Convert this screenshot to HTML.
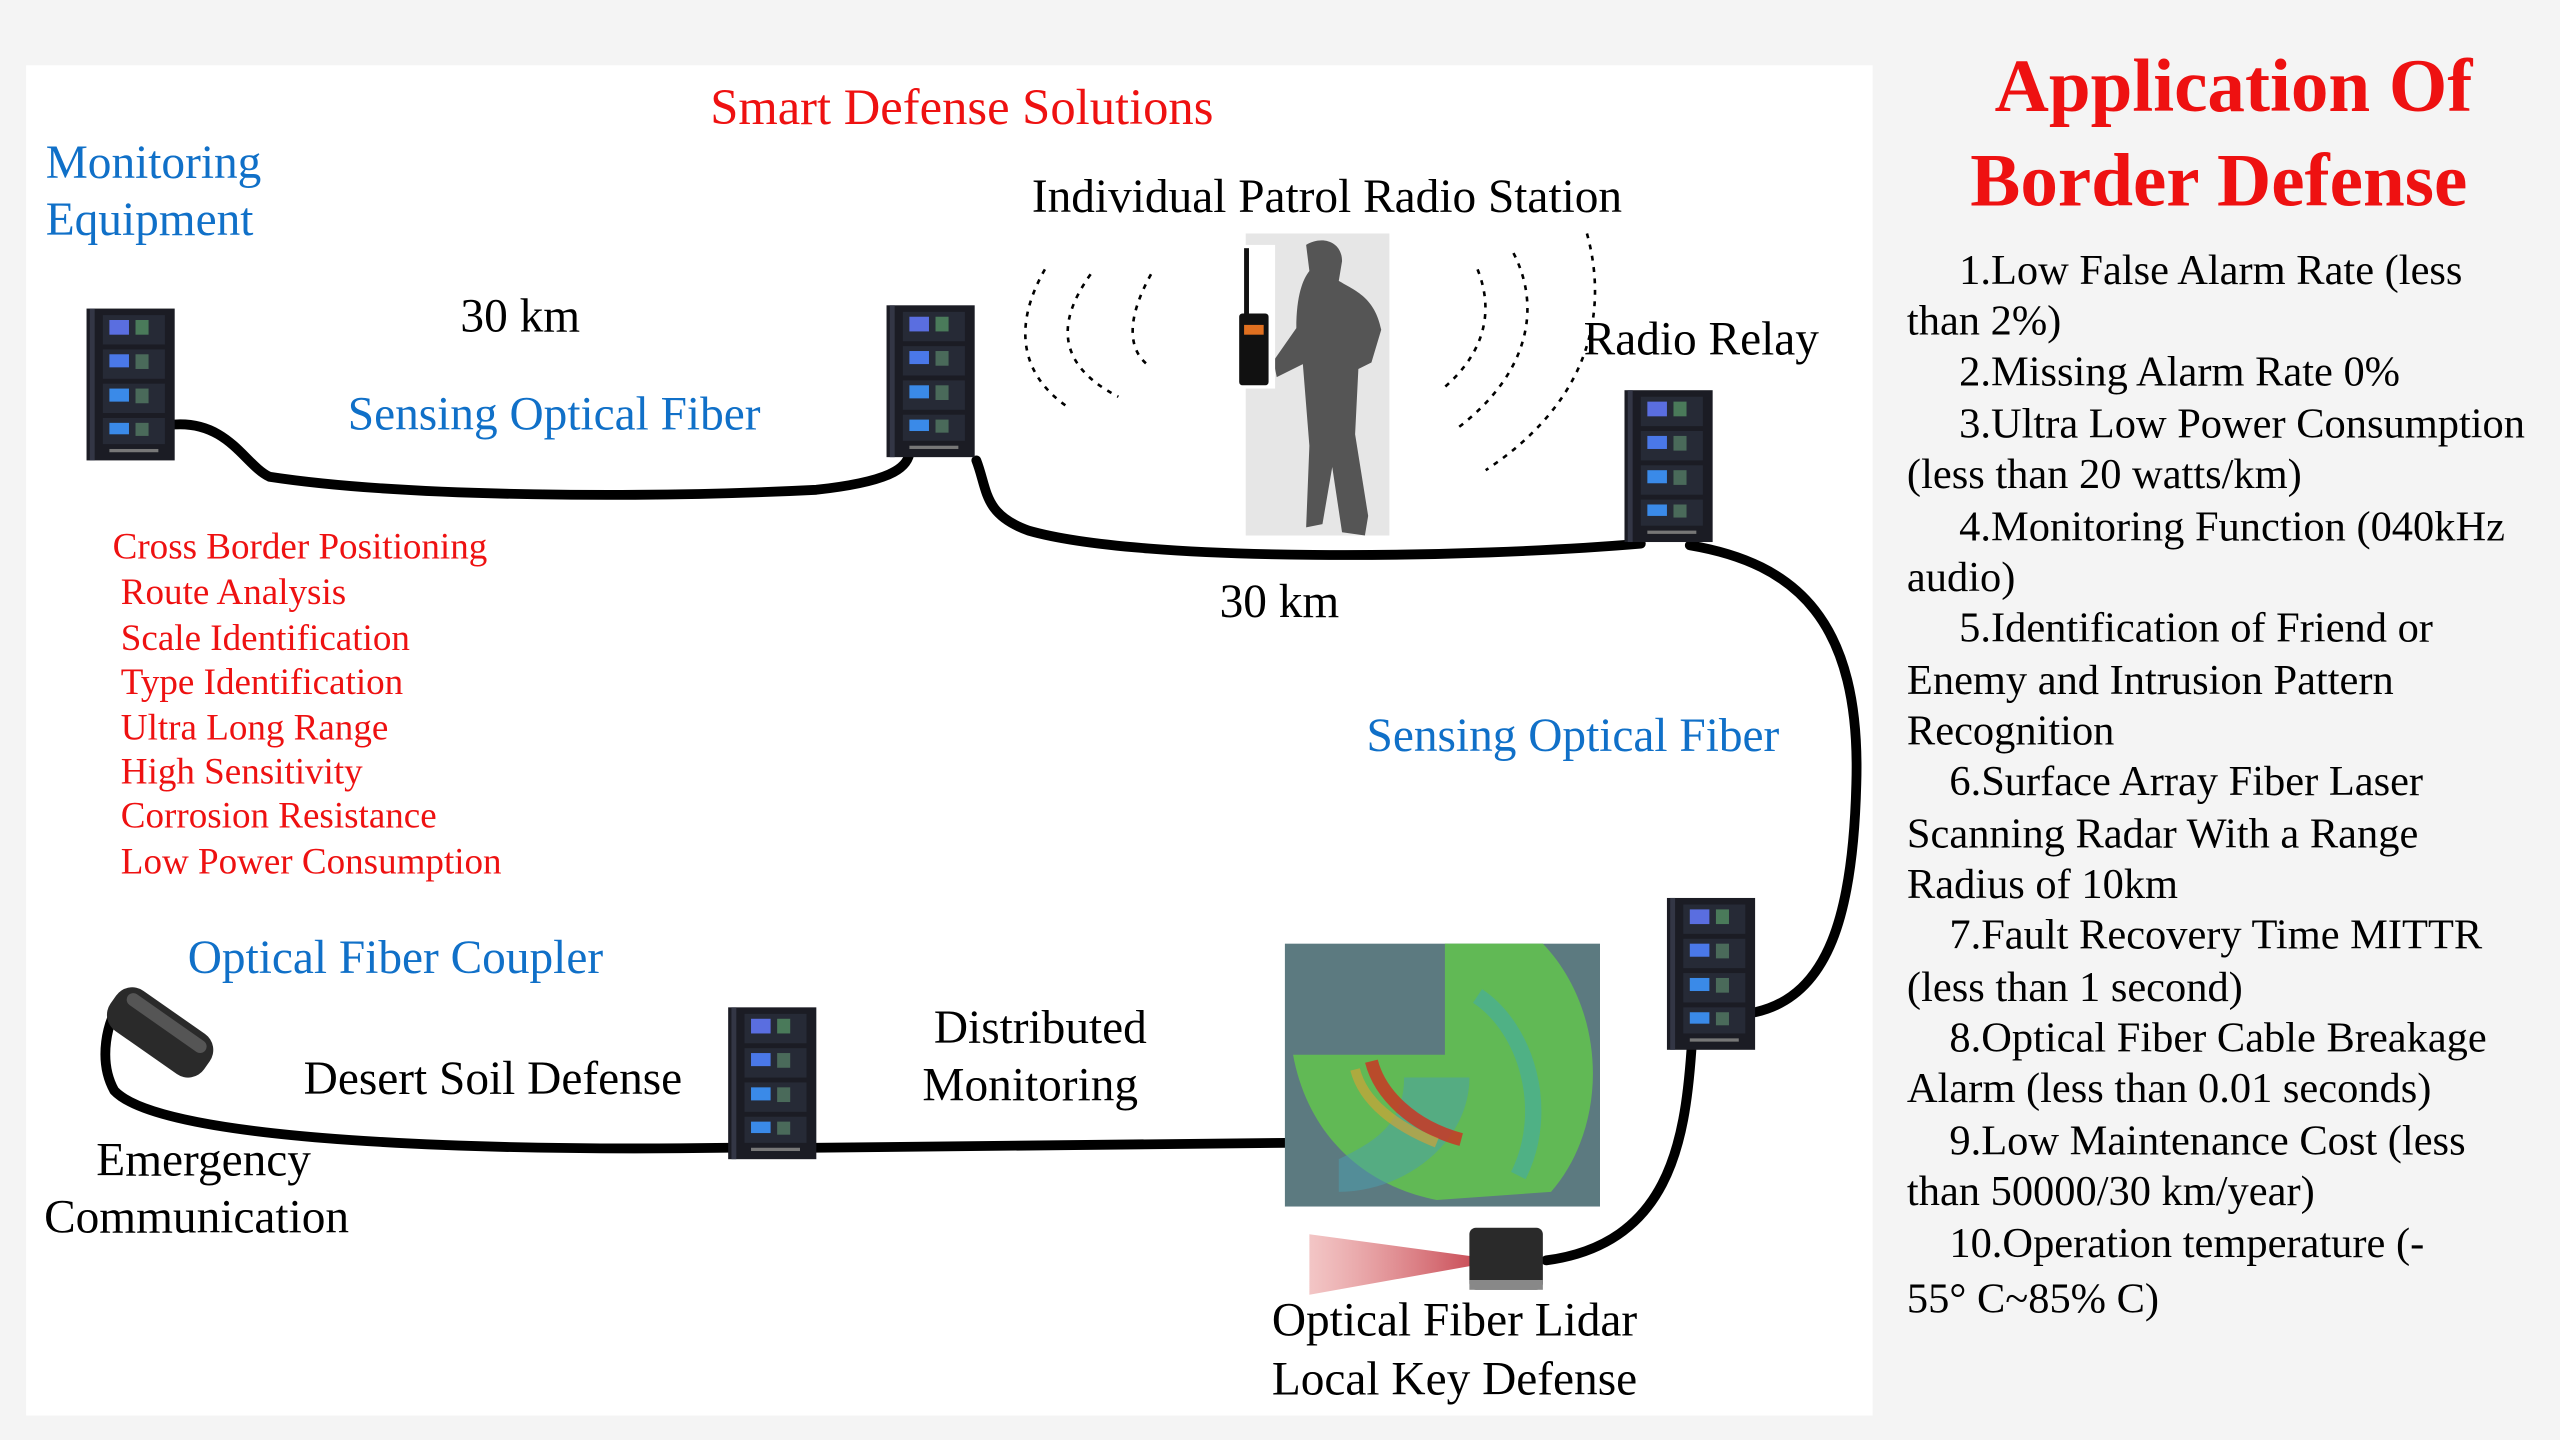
<!DOCTYPE html>
<html><head><meta charset="utf-8"><style>
html,body{margin:0;padding:0;background:#f4f4f4;}
svg{display:block;}
text{font-family:"Liberation Serif",serif;}
</style></head><body>
<svg width="2560" height="1440" viewBox="0 0 1568 882" xmlns="http://www.w3.org/2000/svg">
<defs>
<g id="rack">
<rect x="0" y="0" width="54" height="93" fill="#1b1c24"/>
<rect x="2" y="0" width="3" height="93" fill="#333645"/>
<g>
<rect x="10" y="4" width="38" height="18" fill="#262a36"/><rect x="14" y="7" width="12" height="9" fill="#5a6ee0"/><rect x="30" y="7" width="8" height="9" fill="#4a7a5a"/>
<rect x="10" y="25" width="38" height="18" fill="#262a36"/><rect x="14" y="28" width="12" height="8" fill="#4a78e8"/><rect x="30" y="28" width="8" height="9" fill="#4a6a5a"/>
<rect x="10" y="46" width="38" height="18" fill="#262a36"/><rect x="14" y="49" width="12" height="8" fill="#3a8ae8"/><rect x="30" y="49" width="8" height="9" fill="#4a6a5a"/>
<rect x="10" y="67" width="38" height="16" fill="#262a36"/><rect x="14" y="70" width="12" height="7" fill="#3a8ae8"/><rect x="30" y="70" width="8" height="8" fill="#4a6a5a"/>
<rect x="14" y="86" width="30" height="2" fill="#777"/>
</g>
</g>
<linearGradient id="beam" x1="0" x2="1"><stop offset="0" stop-color="#e07070" stop-opacity="0.5"/><stop offset="1" stop-color="#b00010"/></linearGradient>
</defs>
<rect x="16" y="40" width="1131" height="827" fill="#ffffff"/>

<g fill="none" stroke="#000" stroke-width="6" stroke-linecap="round">
<path d="M107,260 C140,258 150,285 165,292 C250,305 400,305 500,300 C545,295 555,287 557,278"/>
<path d="M598,282 C605,300 602,315 630,325 C700,345 900,342 1005,333"/>
<path d="M1035,334 C1100,345 1140,380 1137,480 C1135,560 1120,610 1075,620"/>
<path d="M1036,643 C1032,700 1022,762 947,772"/>
<path d="M500,703 L787,700"/>
<path d="M446,703 C300,705 100,700 70,668 C60,650 65,625 75,612"/>
</g>

<use href="#rack" x="53" y="189"/>
<use href="#rack" x="543" y="187"/>
<use href="#rack" x="995" y="239"/>
<use href="#rack" x="1021" y="550"/>
<use href="#rack" x="446" y="617"/>

<rect x="763" y="143" width="88" height="185" fill="#e6e6e6"/>
<path d="M800,150 c10,-6 22,-2 22,10 l-2,12 c10,6 22,10 26,30 l-6,20 -8,4 -2,40 8,50 -2,12 -14,-2 -6,-40 -6,35 -10,2 2,-50 -4,-50 -16,8 -2,-10 14,-20 c0,-20 4,-30 8,-35z" fill="#555"/>
<rect x="756" y="150" width="25" height="88" fill="#fff"/>
<rect x="759" y="192" width="18" height="44" rx="2" fill="#111"/>
<rect x="762" y="152" width="3" height="42" fill="#111"/>
<rect x="762" y="199" width="12" height="6" fill="#e07020"/>

<g fill="none" stroke="#000" stroke-width="1.6" stroke-dasharray="3,4">
<path d="M640,165 C620,200 625,230 655,250"/>
<path d="M668,168 C645,200 650,225 685,243"/>
<path d="M705,168 C690,195 690,215 705,225"/>
<path d="M905,165 C915,190 910,215 885,237"/>
<path d="M927,155 C945,190 935,230 893,262"/>
<path d="M972,143 C985,190 975,245 910,288"/>
</g>

<g transform="translate(78,600) rotate(35)">
<rect x="0" y="0" width="70" height="30" rx="12" fill="#2a2a2a"/>
<rect x="6" y="4" width="58" height="8" rx="4" fill="#555"/>
</g>

<rect x="787" y="578" width="193" height="161" fill="#5c7a80"/>
<path d="M792,646 L885,646 L885,578 L945,578 C985,620 985,690 950,730 L880,735 C830,725 800,690 792,646Z" fill="#62c050" opacity="0.9"/>
<path d="M820,730 C860,730 900,700 900,660 L860,660 C860,690 840,700 820,710Z" fill="#4aa0b0" opacity="0.5"/>
<path d="M840,650 C845,670 865,690 895,698" fill="none" stroke="#d03020" stroke-width="8" opacity="0.8"/>
<path d="M830,655 C835,675 855,690 880,700" fill="none" stroke="#e0a030" stroke-width="6" opacity="0.6"/>
<path d="M905,610 C935,630 950,680 930,720" fill="none" stroke="#3aa8c0" stroke-width="10" opacity="0.45"/>

<path d="M802,756 L920,772 L802,793Z" fill="url(#beam)" opacity="0.8"/>
<rect x="900" y="752" width="45" height="38" rx="4" fill="#2a2a2a"/>
<rect x="900" y="784" width="45" height="6" fill="#888"/>

<text x="435" y="76" font-size="31" fill="#ee1111">Smart Defense Solutions</text>
<text x="28" y="109" font-size="29" fill="#1070c8">Monitoring</text>
<text x="28" y="144" font-size="29" fill="#1070c8">Equipment</text>
<text x="632" y="130" font-size="29" fill="#000">Individual Patrol Radio Station</text>
<text x="282" y="203" font-size="29" fill="#000">30 km</text>
<text x="213" y="263" font-size="29" fill="#1070c8">Sensing Optical Fiber</text>
<text x="970" y="217" font-size="29" fill="#000">Radio Relay</text>
<text x="747" y="378" font-size="29" fill="#000">30 km</text>
<text x="837" y="460" font-size="29" fill="#1070c8">Sensing Optical Fiber</text>
<g font-size="22.7" fill="#ee1111">
<text x="69" y="342">Cross Border Positioning</text>
<text x="74" y="370">Route Analysis</text>
<text x="74" y="398">Scale Identification</text>
<text x="74" y="425">Type Identification</text>
<text x="74" y="453">Ultra Long Range</text>
<text x="74" y="480">High Sensitivity</text>
<text x="74" y="507">Corrosion Resistance</text>
<text x="74" y="535">Low Power Consumption</text>
</g>
<text x="115" y="596" font-size="29" fill="#1070c8">Optical Fiber Coupler</text>
<text x="186" y="670" font-size="29" fill="#000">Desert Soil Defense</text>
<text x="59" y="720" font-size="29" fill="#000">Emergency</text>
<text x="27" y="755" font-size="29" fill="#000">Communication</text>
<text x="572" y="639" font-size="29" fill="#000">Distributed</text>
<text x="565" y="674" font-size="29" fill="#000">Monitoring</text>
<text x="779" y="818" font-size="29" fill="#000">Optical Fiber Lidar</text>
<text x="779" y="854" font-size="29" fill="#000">Local Key Defense</text>

<text x="1368" y="68" font-size="46" font-weight="bold" fill="#ee1111" text-anchor="middle">Application Of</text>
<text x="1359" y="126" font-size="46" font-weight="bold" fill="#ee1111" text-anchor="middle">Border Defense</text>
<g font-size="26" fill="#000">
<text x="1200" y="174">1.Low False Alarm Rate (less</text>
<text x="1168" y="205">than 2%)</text>
<text x="1200" y="236">2.Missing Alarm Rate 0%</text>
<text x="1200" y="268">3.Ultra Low Power Consumption</text>
<text x="1168" y="299">(less than 20 watts/km)</text>
<text x="1200" y="331">4.Monitoring Function (040kHz</text>
<text x="1168" y="362">audio)</text>
<text x="1200" y="393">5.Identification of Friend or</text>
<text x="1168" y="425">Enemy and Intrusion Pattern</text>
<text x="1168" y="456">Recognition</text>
<text x="1194" y="487">6.Surface Array Fiber Laser</text>
<text x="1168" y="519">Scanning Radar With a Range</text>
<text x="1168" y="550">Radius of 10km</text>
<text x="1194" y="581">7.Fault Recovery Time MITTR</text>
<text x="1168" y="613">(less than 1 second)</text>
<text x="1194" y="644">8.Optical Fiber Cable Breakage</text>
<text x="1168" y="675">Alarm (less than 0.01 seconds)</text>
<text x="1194" y="707">9.Low Maintenance Cost (less</text>
<text x="1168" y="738">than 50000/30 km/year)</text>
<text x="1194" y="770">10.Operation temperature (-</text>
<text x="1168" y="804">55°  C~85% C)</text>
</g>
</svg>
</body></html>
